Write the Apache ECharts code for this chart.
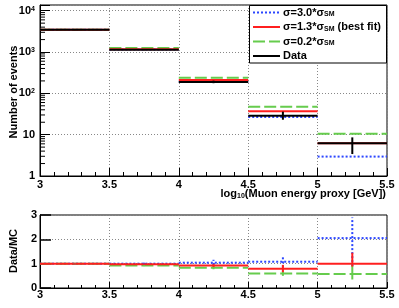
<!DOCTYPE html>
<html><head><meta charset="utf-8">
<script src="https://cdn.jsdelivr.net/npm/echarts@6/dist/echarts.min.js"></script>
<style>html,body{margin:0;padding:0;background:#fff}#c{width:399px;height:308px}</style>
</head><body><div id="c"></div>
<script>
// ---- data ----
const binEdges = [3, 3.5, 4, 4.5, 5, 5.5];
const xTicks = [3, 3.5, 4, 4.5, 5, 5.5];
const mc30 = [3450, 1150, 190, 26.8, 2.95];     // sigma = 3.0 * sigma_SM
const mc13 = [3450, 1170, 211, 36.7, 6.2];      // sigma = 1.3 * sigma_SM (best fit)
const mc02 = [3480, 1250, 240, 47.5, 10.5];     // sigma = 0.2 * sigma_SM
const dataVals = [3450, 1143, 189, 28.8, 6.2];
const dataLo = [3390, 1110, 176, 23, 3.4];
const dataHi = [3510, 1178, 203, 36, 8.6];
const ratio30 = [1.0, 1.0, 1.04, 1.08, 2.05];
const ratio13 = [1.0, 0.98, 0.92, 0.79, 1.0];
const ratio02 = [1.0, 0.92, 0.83, 0.60, 0.58];
const r30Lo = [0.98, 0.96, 0.95, 0.85, 0.9], r30Hi = [1.02, 1.04, 1.16, 1.3, 2.9];
const r13Lo = [0.98, 0.95, 0.86, 0.65, 0.88], r13Hi = [1.02, 1.01, 0.99, 0.95, 1.45];
const r02Lo = [0.98, 0.9, 0.77, 0.5, 0.35], r02Hi = [1.02, 0.95, 0.9, 0.72, 0.95];
const legendLabels = ['σ=3.0*σ{sub|SM}', 'σ=1.3*σ{sub|SM} (best fit)', 'σ=0.2*σ{sub|SM}', 'Data'];

const BLUE = '#2b46ff', RED = '#ff1f1f', GREEN = '#66cc4d', BLACK = '#000';
const FONT = 'Liberation Sans';
const styles = {
  b: {stroke: BLUE, lineWidth: 2, lineDash: [2, 2]},
  r: {stroke: RED, lineWidth: 2, lineDash: null},
  g: {stroke: GREEN, lineWidth: 2, lineDash: [12, 4]},
  k: {stroke: BLACK, lineWidth: 2, lineDash: null}
};

function segData(vals){ return vals.map((v,i)=>[binEdges[i], binEdges[i+1], v]); }
function errData(lo, hi){ return lo.map((l,i)=>[(binEdges[i]+binEdges[i+1])/2, l, hi[i]]); }

function segSeries(vals, st, gi, z){
  return {type:'custom', xAxisIndex:gi, yAxisIndex:gi, z:z, silent:true,
    encode:{x:[0,1], y:2},
    data: segData(vals),
    renderItem: function(p, api){
      const a = api.coord([api.value(0), api.value(2)]);
      const b = api.coord([api.value(1), api.value(2)]);
      return {type:'line', shape:{x1:a[0], y1:a[1], x2:b[0], y2:b[1]},
        style:{stroke:st.stroke, lineWidth:st.lineWidth, lineDash:st.lineDash}};
    }};
}
function errSeries(lo, hi, st, gi, z){
  return {type:'custom', xAxisIndex:gi, yAxisIndex:gi, z:z, silent:true,
    encode:{x:0, y:[1,2]},
    data: errData(lo, hi),
    renderItem: function(p, api){
      const a = api.coord([api.value(0), api.value(1)]);
      const b = api.coord([api.value(0), api.value(2)]);
      return {type:'line', shape:{x1:a[0], y1:a[1], x2:b[0], y2:b[1]},
        style:{stroke:st.stroke, lineWidth:st.lineWidth, lineDash:st.lineDash}};
    }};
}
// log-axis minor ticks (2..9 x 10^k)
const minorLog = [];
for (let k = 0; k < 4; k++) for (let m = 2; m <= 9; m++) minorLog.push([3, m * Math.pow(10, k)]);

const chart = echarts.init(document.getElementById('c'), null, {renderer:'canvas'});
const lbl = {color:'#000', fontFamily:FONT, fontSize:11, fontWeight:'bold'};
const split = {show:true, lineStyle:{color:'#888', width:1, type:[1,2]}};

const option = {
  animation:false,
  grid:[
    {left:40, top:5, width:347, height:171, show:true, borderColor:'#000', borderWidth:1, backgroundColor:'#fff'},
    {left:40, top:215, width:347, height:73, show:true, borderColor:'#000', borderWidth:1, backgroundColor:'#fff'}
  ],
  xAxis:[
    {type:'value', gridIndex:0, min:xTicks[0], max:xTicks[xTicks.length-1], interval:0.5,
     axisLine:{lineStyle:{color:'#000'}}, axisTick:{inside:true, length:8, lineStyle:{color:'#000'}},
     minorTick:{show:true, splitNumber:5, length:4, lineStyle:{color:'#000'}},
     axisLabel:Object.assign({margin:3}, lbl), splitLine:split},
    {type:'value', gridIndex:1, min:xTicks[0], max:xTicks[xTicks.length-1], interval:0.5,
     axisLine:{lineStyle:{color:'#000'}}, axisTick:{inside:true, length:6, lineStyle:{color:'#000'}},
     minorTick:{show:true, splitNumber:5, length:3, lineStyle:{color:'#000'}},
     axisLabel:Object.assign({margin:1}, lbl), splitLine:split}
  ],
  yAxis:[
    {type:'log', gridIndex:0, min:1, max:13740, logBase:10,
     axisLine:{lineStyle:{color:'#000'}}, axisTick:{inside:true, length:10, lineStyle:{color:'#000'}},
     axisLabel:Object.assign({margin:5,
       formatter:function(v){
         const e = Math.log10(v), r = Math.round(e);
         if (Math.abs(e - r) > 1e-6) return '';
         if (r === 0) return '1';
         if (r === 1) return '10';
         return '10{sup|' + r + '}';
       },
       rich:{sup:{fontSize:7, fontFamily:FONT, fontWeight:'bold', color:'#000', verticalAlign:'top'}}}, lbl),
     splitLine:split},
    {type:'value', gridIndex:1, min:0, max:3, interval:1,
     axisLine:{lineStyle:{color:'#000'}}, axisTick:{inside:true, length:11, lineStyle:{color:'#000', width:1.5}},
     axisLabel:Object.assign({margin:3}, lbl), splitLine:split}
  ],
  series:[
    {type:'custom', xAxisIndex:0, yAxisIndex:0, silent:true, z:3, encode:{x:0, y:1}, data:minorLog,
     renderItem:function(p, api){
       const a = api.coord([api.value(0), api.value(1)]);
       return {type:'line', shape:{x1:a[0], y1:a[1], x2:a[0]+5, y2:a[1]}, style:{stroke:'#000', lineWidth:1}};
     }},
    segSeries(mc30, styles.b, 0, 4),
    segSeries(mc02, styles.g, 0, 5),
    segSeries(mc13, styles.r, 0, 6),
    segSeries(dataVals, styles.k, 0, 7),
    errSeries(dataLo, dataHi, styles.k, 0, 8),
    segSeries(ratio30, styles.b, 1, 4),
    segSeries(ratio02, styles.g, 1, 5),
    segSeries(ratio13, styles.r, 1, 6),
    errSeries(r30Lo, r30Hi, styles.b, 1, 7),
    errSeries(r02Lo, r02Hi, {stroke:GREEN, lineWidth:2, lineDash:null}, 1, 8),
    errSeries(r13Lo, r13Hi, styles.r, 1, 9)
  ],
  graphic:[
    {type:'text', x:14, y:92, rotation:Math.PI/2, z:50,
     style:{text:'Number of events', fontFamily:FONT, fontSize:11, fontWeight:'bold', fill:'#000', align:'center', verticalAlign:'middle'}},
    {type:'text', x:14, y:251, rotation:Math.PI/2, z:50,
     style:{text:'Data/MC', fontFamily:FONT, fontSize:11, fontWeight:'bold', fill:'#000', align:'center', verticalAlign:'middle'}},
    {type:'text', x:386, y:194, z:50,
     style:{text:'log{sub|10}(Muon energy proxy [GeV])', fontFamily:FONT, fontSize:11, fontWeight:'bold', fill:'#000', align:'right', verticalAlign:'middle',
       rich:{sub:{fontSize:7, fontFamily:FONT, fontWeight:'bold', fill:'#000', verticalAlign:'bottom'}}}},
    {type:'rect', z:60, shape:{x:249.5, y:5.5, width:137, height:57.5}, style:{fill:'#fff', stroke:'#000', lineWidth:1}},
  ].concat(legendLabels.flatMap(function(t, i){
    const st = [styles.b, styles.r, styles.g, styles.k][i];
    const y = 12.5 + i * 14.5;
    return [
      {type:'line', z:61, shape:{x1:253, y1:y, x2:280, y2:y}, style:{stroke:st.stroke, lineWidth:2, lineDash:st.lineDash}},
      {type:'text', z:61, x:283, y:y,
       style:{text:t, fontFamily:FONT, fontSize:11, fontWeight:'bold', fill:'#000', align:'left', verticalAlign:'middle',
         rich:{sub:{fontSize:7, fontFamily:FONT, fontWeight:'bold', fill:'#000', verticalAlign:'bottom'}}}}
    ];
  }))
};
chart.setOption(option);
</script>
</body></html>
